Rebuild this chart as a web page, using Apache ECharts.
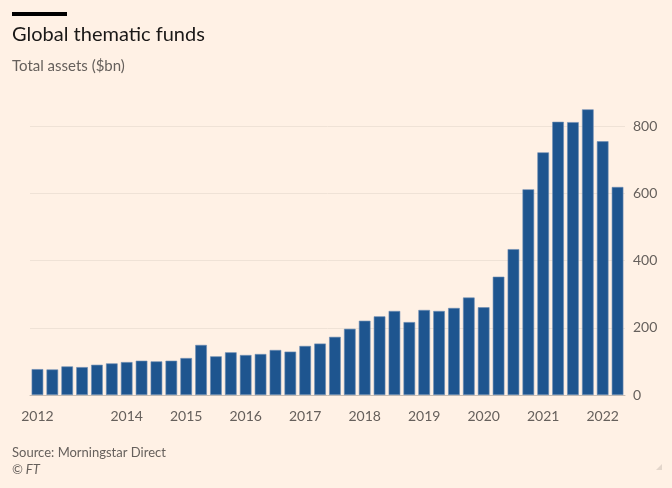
<!DOCTYPE html>
<html>
<head>
<meta charset="utf-8">
<script src="https://cdn.jsdelivr.net/npm/echarts@6/dist/echarts.min.js"></script>
<style>
  html, body { margin: 0; padding: 0; background: #fff1e5; }
  #main { width: 672px; height: 488px; }
</style>
</head>
<body>
<div id="main"></div>
<script>
// quarter ends, Q2 2012 -> Q1 2022
var quarters = [
  '2012Q2', '2012Q3', '2012Q4',
  '2013Q1', '2013Q2', '2013Q3', '2013Q4',
  '2014Q1', '2014Q2', '2014Q3', '2014Q4',
  '2015Q1', '2015Q2', '2015Q3', '2015Q4',
  '2016Q1', '2016Q2', '2016Q3', '2016Q4',
  '2017Q1', '2017Q2', '2017Q3', '2017Q4',
  '2018Q1', '2018Q2', '2018Q3', '2018Q4',
  '2019Q1', '2019Q2', '2019Q3', '2019Q4',
  '2020Q1', '2020Q2', '2020Q3', '2020Q4',
  '2021Q1', '2021Q2', '2021Q3', '2021Q4',
  '2022Q1'
];
// total assets, $bn (same order as quarters)
var assets = [
  77, 76, 85,
  83, 90, 94, 98,
  102, 100, 102, 110,
  149, 115, 127, 119,
  122, 134, 129, 146,
  153, 173, 197, 221,
  234, 250, 217, 253,
  250, 259, 290, 261,
  352, 434, 612, 722,
  813, 812, 850, 755,
  619
];
// year labels sit on the quarter index where that year begins
var yearLabels = {0: '2012', 6: '2014', 10: '2015', 14: '2016', 18: '2017',
  22: '2018', 26: '2019', 30: '2020', 34: '2021', 38: '2022'};

var grey = '#66605c';
var font = 'Lato';

var myChart = echarts.init(document.getElementById('main'));
myChart.setOption({
  backgroundColor: '#fff1e5',
  textStyle: { fontFamily: font },
  title: [
    { text: 'Global thematic funds', left: 12, top: 25, padding: 0,
      textStyle: { fontSize: 20, fontWeight: 'normal', color: '#1a1817', fontFamily: font } },
    { text: 'Total assets ($bn)', left: 12, top: 59, padding: 0,
      textStyle: { fontSize: 15, fontWeight: 'normal', color: grey, fontFamily: font } },
    { text: 'Source: Morningstar Direct', left: 12, top: 446, padding: 0,
      textStyle: { fontSize: 13, fontWeight: 'normal', color: grey, fontFamily: font } },
    { text: '© FT', left: 12, top: 463, padding: 0,
      textStyle: { fontSize: 13, fontWeight: 'normal', fontStyle: 'italic', color: grey, fontFamily: font } }
  ],
  graphic: [
    { type: 'rect', left: 12, top: 12, shape: { width: 55, height: 4 }, style: { fill: '#000' } },
    { type: 'polygon', shape: { points: [[662, 464], [662, 470], [656, 470]] },
      style: { fill: '#e3d6cb' } }
  ],
  grid: { left: 30, right: 47, top: 106, bottom: 93, containLabel: false },
  xAxis: [
    {
      type: 'category',
      data: quarters,
      axisLine: { lineStyle: { color: '#c9beb4', width: 1 } },
      axisTick: { alignWithLabel: true, length: 6, lineStyle: { color: '#d6cbc1' } },
      axisLabel: {
        interval: 0,
        margin: 14,
        fontSize: 14,
        color: grey,
        fontFamily: font,
        formatter: function (v, i) { return yearLabels[i] || ''; }
      }
    },
    {
      type: 'category',
      data: quarters,
      position: 'bottom',
      axisLine: { show: false },
      axisTick: {
        alignWithLabel: true, length: 9, lineStyle: { color: '#d6cbc1' },
        interval: function (i) { return yearLabels[i] !== undefined; }
      },
      axisLabel: { show: false }
    }
  ],
  yAxis: {
    type: 'value',
    position: 'right',
    min: 0,
    max: 860,
    interval: 200,
    axisLine: { show: false },
    axisTick: { show: false },
    axisLabel: {
      showMaxLabel: false,
      margin: 8,
      fontSize: 14,
      color: grey,
      fontFamily: font
    },
    splitLine: { showMaxLine: false, lineStyle: { color: '#efe2d6', width: 1 } }
  },
  series: [{
    name: 'Total assets',
    type: 'bar',
    data: assets,
    barCategoryGap: '22%',
    itemStyle: { color: '#1e558f', borderColor: '#6c8db3', borderWidth: 0.6 }
  }]
});
</script>
</body>
</html>
